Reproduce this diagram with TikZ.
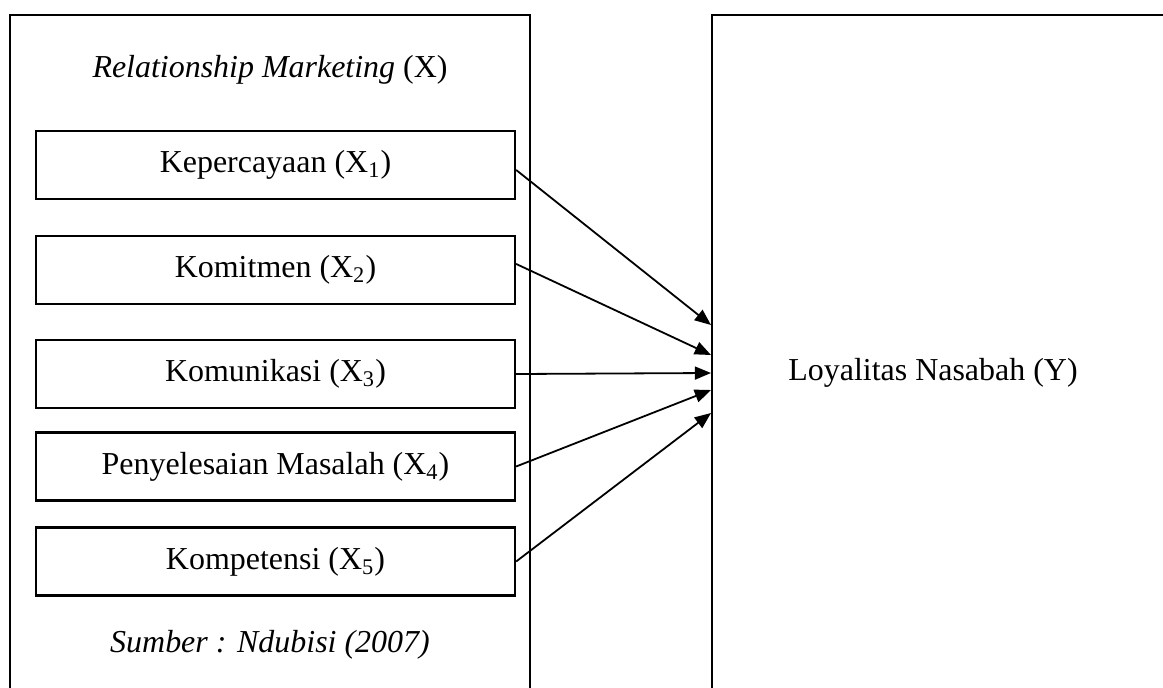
\documentclass[tikz,border=0pt]{standalone}
\usepackage{fontspec}
\setmainfont{Liberation Serif}
\usetikzlibrary{arrows.meta}
\tikzset{
  frame/.style={line width=0.95pt, line cap=rect},
  item/.style={draw, line width=0.95pt, rectangle, inner sep=0pt,
    minimum width=212.9pt, minimum height=30.2pt, font=\fontsize{14.2pt}{16pt}\selectfont},
  label/.style={inner sep=0pt, font=\fontsize{14.2pt}{16pt}\selectfont},
  arr/.style={line width=0.8pt, -{Triangle[length=7.2pt,width=5.8pt]}}
}
\begin{document}
\begin{tikzpicture}[x=0.4444pt, y=-0.4444pt]
\useasboundingbox (0,0) rectangle (1163,687);
% big frames
\draw[frame] (10,690) -- (10,15) -- (530,15) -- (530,690);
\draw[frame] (712,690) -- (712,15) -- (1166,15);
% texts
\node[label] (hx) at (270,70) {\textit{Relationship Marketing} (X)};
\node[label] (src) at (270,645) {\textit{Sumber : Ndubisi (2007)}};
\node[label] (y) at (933,373) {Loyalitas Nasabah (Y)};
% items
\node[item] (b1) at (275.5,165) {Kepercayaan (X\textsubscript{1})};
\node[item] (b2) at (275.5,270) {Komitmen (X\textsubscript{2})};
\node[item] (b3) at (275.5,374) {Komunikasi (X\textsubscript{3})};
\node[item] (b4) at (275.5,466.5) {Penyelesaian Masalah (X\textsubscript{4})};
\node[item] (b5) at (275.5,561.5) {Kompetensi (X\textsubscript{5})};
% arrow targets on the left side of the Y frame
\coordinate (t1) at (711,325);
\coordinate (t2) at (711,355);
\coordinate (t3) at (711,373);
\coordinate (t4) at (711,390);
\coordinate (t5) at (711,413);
\draw[arr] ([yshift=-2.2pt]b1.east) -- (t1);
\draw[arr] ([yshift=2.7pt]b2.east) -- (t2);
\draw[arr] (b3.east) -- (t3);
\draw[arr] (b4.east) -- (t4);
\draw[arr] (b5.east) -- (t5);
\end{tikzpicture}
\end{document}
